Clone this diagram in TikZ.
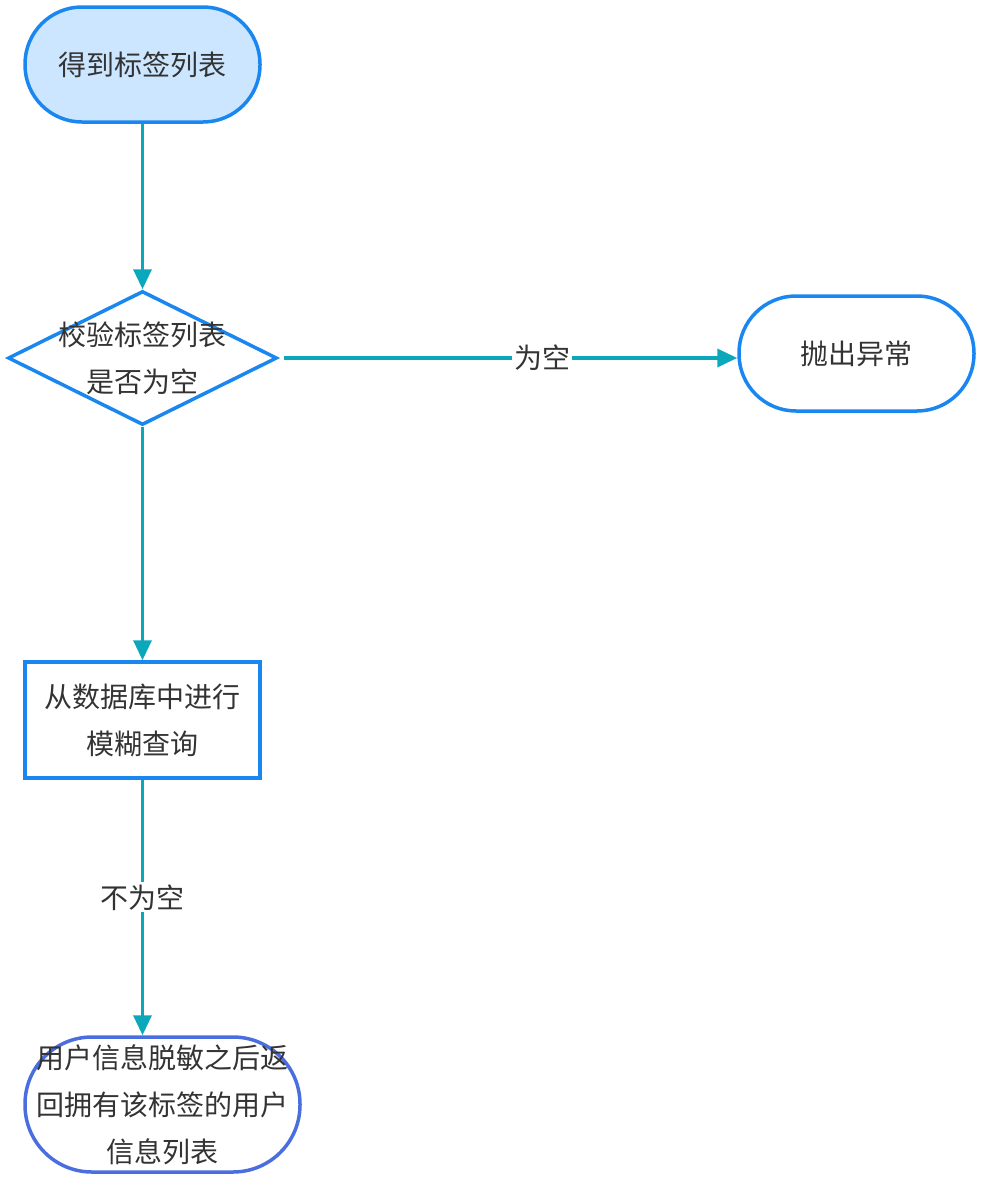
\documentclass[tikz,border=0pt]{standalone}
\usepackage{fontspec}
\setmainfont{Noto Sans CJK SC}
\usetikzlibrary{shapes.geometric,arrows.meta}
\definecolor{nodeblue}{HTML}{1A87F0}
\definecolor{endblue}{HTML}{4A6EE0}
\definecolor{fillblue}{HTML}{CCE6FF}
\definecolor{teal}{HTML}{0AA8BA}
\definecolor{txt}{HTML}{333333}
\tikzset{
  every node/.style={font=\fontsize{28}{47}\selectfont, text=txt},
  terminal/.style={draw=nodeblue, line width=3.5pt, minimum width=235pt, minimum height=115pt, rounded corners=57pt, inner sep=0pt, align=center},
  procbox/.style={draw=nodeblue, line width=3.5pt, minimum width=235pt, minimum height=116pt, inner sep=0pt, align=center},
  decision/.style={draw=nodeblue, line width=3.5pt, shape=diamond, minimum width=269pt, minimum height=134pt, inner sep=0pt},
  flow/.style={draw=teal, line width=3.5pt, -{Triangle[length=20pt,width=18pt]}},
  edgelabel/.style={fill=white, inner sep=2pt}
}
\begin{document}
\begin{tikzpicture}[x=1pt,y=-1pt]
\useasboundingbox (0,0) rectangle (984,1184);
\node[terminal, fill=fillblue] (start) at (142.5,64.5) {得到标签列表};
\node[decision] (check) at (142.5,358) {};
\node[align=center, inner sep=0pt] (checktext) at (142.5,358) {校验标签列表\\是否为空};
\node[terminal, fill=white] (throw) at (856.5,353.5) {抛出异常};
\node[procbox] (query) at (142.5,720) {从数据库中进行\\模糊查询};
\node[draw=endblue, line width=3.5pt, minimum width=275pt, minimum height=135pt, rounded corners=67pt, inner sep=0pt, align=center] (result) at (162.5,1104.5) {用户信息脱敏之后返\\回拥有该标签的用户\\信息列表};
\draw[flow] ([xshift=0pt]start.south) -- (check.north);
\draw[flow] ([xshift=5pt]check.east) -- node[edgelabel, pos=0.57] (lblempty) {为空} (check.east -| throw.west);
\draw[flow] (check.south) -- (query.north);
\draw[flow] (query.south) -- node[edgelabel, pos=0.46] (lblnotempty) {不为空} (query.south |- result.north);
\end{tikzpicture}
\end{document}
